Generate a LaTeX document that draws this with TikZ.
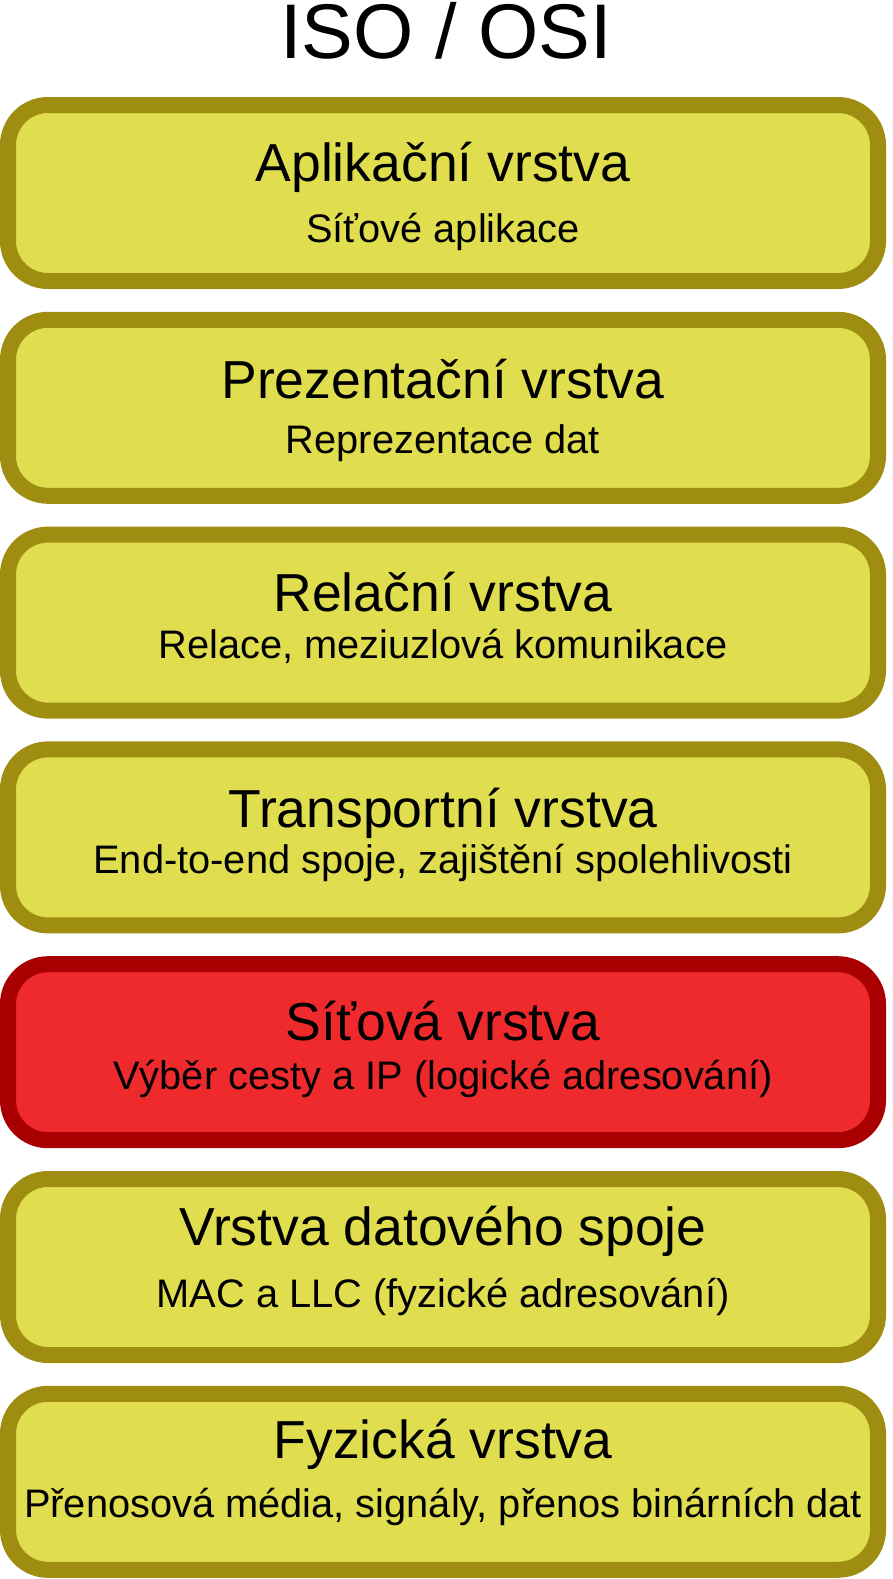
\documentclass[tikz,border=0pt]{standalone}
\usepackage{fontspec}
\setmainfont{Liberation Sans}
\usetikzlibrary{positioning}

\definecolor{layerfill}{HTML}{E0DE4F}
\definecolor{layerline}{HTML}{9F8D12}
\definecolor{netfill}{HTML}{EF2A2C}
\definecolor{netline}{HTML}{A80000}

\begin{document}
\begin{tikzpicture}[x=1pt,y=-1pt]
\tikzstyle{layer}=[draw=layerline,fill=layerfill,line width=16pt,rounded corners=40pt,minimum width=870pt,minimum height=176pt,outer sep=0pt,inner sep=0pt]
\tikzstyle{netlayer}=[layer,draw=netline,fill=netfill]
\tikzstyle{head}=[anchor=base,inner sep=0pt,font=\fontsize{53.5}{60}\selectfont]
\tikzstyle{sub}=[anchor=base,inner sep=0pt,font=\fontsize{39.8}{44}\selectfont]
\tikzstyle{every node}+=[node distance=214.8pt]

\useasboundingbox (0,0) rectangle (893,1579);

\node[anchor=base,inner sep=0pt,text height=55pt,font=\fontsize{77.5}{80}\selectfont] (title) at (446,58.5) {ISO / OSI};

\node[layer] (app) at (443,193) {};
\node[layer] (pres) [below of=app] {};
\node[layer] (sess) [below of=pres] {};
\node[layer] (trans) [below of=sess] {};
\node[netlayer] (net) [below of=trans] {};
\node[layer] (link) [below of=net] {};
\node[layer] (phys) [below of=link] {};

\node[head] (app_head) at ([yshift=12pt]app.center) {Aplikační vrstva};
\node[sub] (app_sub) at ([yshift=-49pt]app.center) {Síťové aplikace};
\node[head] (pres_head) at ([yshift=9pt]pres.center) {Prezentační vrstva};
\node[sub] (pres_sub) at ([yshift=-46pt]pres.center) {Reprezentace dat};
\node[head] (sess_head) at ([yshift=11pt]sess.center) {Relační vrstva};
\node[sub] (sess_sub) at ([yshift=-36pt]sess.center) {Relace, meziuzlová komunikace};
\node[head] (trans_head) at ([yshift=10pt]trans.center) {Transportní vrstva};
\node[sub] (trans_sub) at ([yshift=-36pt]trans.center) {End-to-end spoje, zajištění spolehlivosti};
\node[head] (net_head) at ([yshift=12pt]net.center) {Síťová vrstva};
\node[sub] (net_sub) at ([yshift=-37pt]net.center) {Výběr cesty a IP (logické adresování)};
\node[head] (link_head) at ([yshift=22pt]link.center) {Vrstva datového spoje};
\node[sub] (link_sub) at ([yshift=-40pt]link.center) {MAC a LLC (fyzické adresování)};
\node[head] (phys_head) at ([yshift=23pt]phys.center) {Fyzická vrstva};
\node[sub] (phys_sub) at ([yshift=-36pt]phys.center) {Přenosová média, signály, přenos binárních dat};
\end{tikzpicture}
\end{document}
